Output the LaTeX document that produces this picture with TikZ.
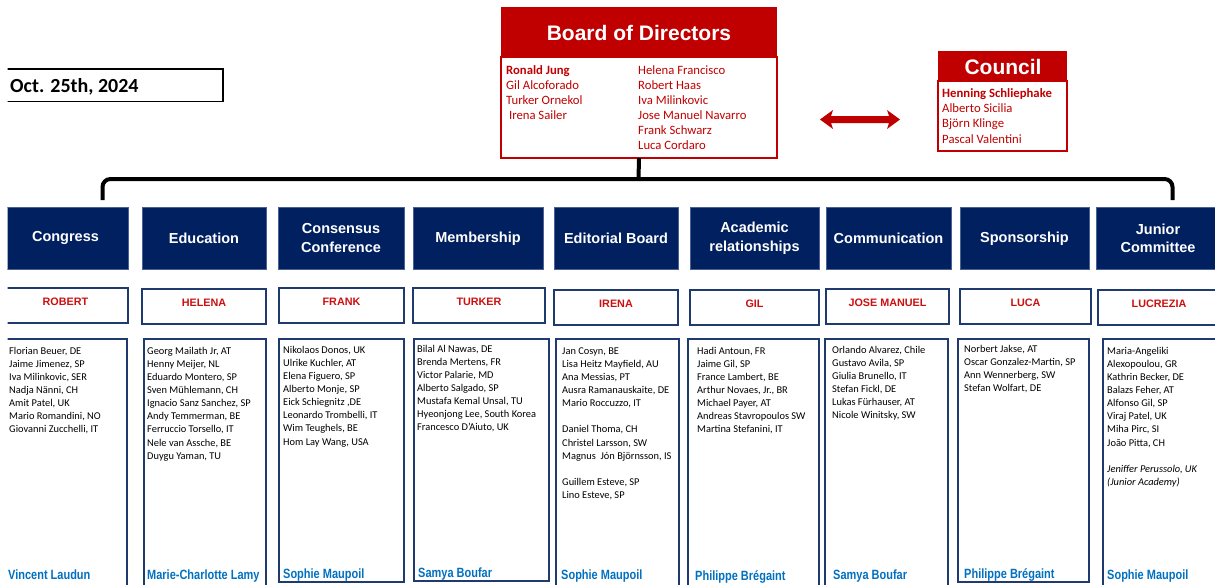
\documentclass[tikz,border=0pt]{standalone}
\usepackage{fontspec}
\setmainfont{Carlito}
\newfontfamily\arial{Liberation Sans}
\newfontfamily\arialn[FakeStretch=0.82]{Liberation Sans}
\definecolor{navyfill}{HTML}{002060}
\definecolor{navyedge}{HTML}{4A6196}
\definecolor{navyline}{HTML}{1F3A6E}
\definecolor{redc}{HTML}{C00000}
\definecolor{leadred}{HTML}{CC1010}
\definecolor{bluec}{HTML}{0070C0}
\tikzset{
  hbox/.style={fill=navyfill, draw=navyedge, line width=0.6pt, text=white,
    font=\arial\bfseries\fontsize{14.5}{18.5}\selectfont, align=center,
    inner sep=0pt, outer sep=0pt, anchor=north west, minimum height=62.5pt},
  lbox/.style={draw=navyline, line width=1.6pt, fill=white, inner sep=0pt,
    outer sep=0pt, anchor=north west, minimum height=35pt},
  ltext/.style={text=leadred, font=\arial\bfseries\fontsize{10.8}{13}\selectfont,
    anchor=base, inner sep=0pt},
  mbox/.style={draw=navyline, line width=1.6pt, inner sep=0pt, outer sep=0pt,
    anchor=north west},
  mtext/.style={font=\fontsize{10.4}{12.5}\selectfont, anchor=base west, inner sep=0pt},
  bname/.style={text=bluec, font=\arialn\bfseries\fontsize{13.4}{15}\selectfont,
    anchor=base west, inner sep=0pt},
  redhead/.style={fill=redc, text=white, font=\arial\bfseries\fontsize{21}{25}\selectfont,
    inner sep=0pt, outer sep=0pt, anchor=north west},
  redbody/.style={draw=redc, line width=1.5pt, fill=white, inner sep=0pt, outer sep=0pt,
    anchor=north west},
  btext/.style={text=redc, font=\fontsize{12.7}{15}\selectfont, anchor=base west, inner sep=0pt},
  bracestyle/.style={line width=4pt, rounded corners=8pt},
}
\newcommand{\mlist}[4]{\foreach \t [count=\i] in {#4} {\node[mtext] (#1-\i) at ({#2},{#3+(\i-1)*13.1}) {\t};}}
\newcommand{\blist}[5]{\foreach \t [count=\i] in {#5} {\node[btext] (#1-\i) at ({#2},{#3+(\i-1)*#4}) {\t};}}
\begin{document}
\begin{tikzpicture}[x=1pt,y=-1pt]
\useasboundingbox (0,0) rectangle (1215,584);
\begin{scope}
\clip (7.5,0) rectangle (1215,584);

% date
\draw[line width=1.5pt] (7,69) -- (223,69) -- (223,101.5) -- (7,101.5);
\node[font=\bfseries\fontsize{20}{24}\selectfont, anchor=base west, inner sep=0pt] (date) at (10,92) {Oct. 25th, 2024};

% board of directors
\node[redhead, minimum width=276pt, minimum height=50pt] (boardhead) at (501,7) {};
\node[text=white, font=\arial\bfseries\fontsize{21}{25}\selectfont, inner sep=0pt] (boardtitle) at (639,33) {Board of Directors};
\node[redbody, minimum width=276pt, minimum height=101pt] (boardbody) at (501,57) {};
\node[btext, font=\bfseries\fontsize{12.7}{15}\selectfont] (bd0) at (506,74) {Ronald Jung};
\blist{bda}{506}{89.1}{15.1}{Gil Alcoforado,Turker Ornekol,\ Irena Sailer}
\blist{bdb}{638}{74}{15.1}{Helena Francisco,Robert Haas,Iva Milinkovic,Jose Manuel Navarro,Frank Schwarz,Luca Cordaro}

% council
\node[redhead, minimum width=129pt, minimum height=30pt] (councilhead) at (938,51) {};
\node[text=white, font=\arial\bfseries\fontsize{21}{25}\selectfont, inner sep=0pt] (counciltitle) at (1003,66.5) {Council};
\node[redbody, minimum width=129pt, minimum height=70pt] (councilbody) at (938,81) {};
\node[btext, font=\bfseries\fontsize{12.7}{15}\selectfont] (co0) at (942,97) {Henning Schliephake};
\blist{coa}{942}{112.5}{15.3}{Alberto Sicilia,Björn Klinge,Pascal Valentini}

% double arrow
\fill[redc] (820,119.5) -- (833,110) -- (831,116) -- (889,116) -- (887,110) -- (900,119.5)
  -- (887,129) -- (889,123) -- (831,123) -- (833,129) -- cycle;

% brace connector
\coordinate (braceL) at (102.5,200);
\coordinate (braceR) at (1172.5,200);
\coordinate (braceM) at (638.5,179);
\draw[bracestyle] (braceL) -- (102.5,179) -- (1172.5,179) -- (braceR);
\draw[line width=4pt] (boardbody.south) -- (braceM);

% headers
\node[hbox, minimum width=125pt] (h1) at (3,207) {Congress};
\node[hbox, minimum width=124pt] (h2) at (142,207) {Education};
\node[hbox, minimum width=126pt] (h3) at (278,207) {Consensus\\Conference};
\node[hbox, minimum width=130pt] (h4) at (413,207) {Membership};
\node[hbox, minimum width=124pt] (h5) at (554,207) {Editorial Board};
\node[hbox, minimum width=129pt] (h6) at (690,207) {Academic\\relationships};
\node[hbox, minimum width=125pt] (h7) at (826,207) {Communication};
\node[hbox, minimum width=129pt] (h8) at (960,207) {Sponsorship};
\node[hbox, minimum width=124pt] (h9) at (1096,207) {Junior\\Committee};

% leaders
\node[lbox, minimum width=125pt] (l1) at (3,288) {};
\node[lbox, minimum width=124pt] (l2) at (142,289) {};
\node[lbox, minimum width=125pt] (l3) at (279,288) {};
\node[lbox, minimum width=132pt] (l4) at (413,288) {};
\node[lbox, minimum width=124pt] (l5) at (554,290) {};
\node[lbox, minimum width=129pt] (l6) at (690,290) {};
\node[lbox, minimum width=123pt] (l7) at (826,289) {};
\node[lbox, minimum width=131pt] (l8) at (960,289) {};
\node[lbox, minimum width=122pt] (l9) at (1098,290) {};
\node[ltext] (lt1) at ([yshift=-17pt]l1.north) {ROBERT};
\node[ltext] (lt2) at ([yshift=-17pt]l2.north) {HELENA};
\node[ltext] (lt3) at ([yshift=-17pt]l3.north) {FRANK};
\node[ltext] (lt4) at ([yshift=-17pt]l4.north) {TURKER};
\node[ltext] (lt5) at ([yshift=-17pt]l5.north) {IRENA};
\node[ltext] (lt6) at ([yshift=-17pt]l6.north) {GIL};
\node[ltext] (lt7) at ([yshift=-17pt]l7.north) {JOSE MANUEL};
\node[ltext] (lt8) at ([yshift=-17pt]l8.north) {LUCA};
\node[ltext] (lt9) at ([yshift=-17pt]l9.north) {LUCREZIA};

% member boxes
\node[mbox, minimum width=124pt, minimum height=255pt] (m1) at (3,339) {};
\node[mbox, minimum width=122pt, minimum height=255pt] (m2) at (144,339) {};
\node[mbox, minimum width=125pt, minimum height=243pt] (m3) at (279,339) {};
\node[mbox, minimum width=135pt, minimum height=242pt] (m4) at (414,339) {};
\node[mbox, minimum width=123pt, minimum height=255pt] (m5) at (556,339) {};
\node[mbox, minimum width=131pt, minimum height=255pt] (m6) at (688,339) {};
\node[mbox, minimum width=123pt, minimum height=255pt] (m7) at (825,339) {};
\node[mbox, minimum width=131pt, minimum height=243pt] (m8) at (958,339) {};
\node[mbox, minimum width=125pt, minimum height=255pt] (m9) at (1103,339) {};

% member lists
\mlist{a}{9}{354.3}{{Florian Beuer, DE},{Jaime Jimenez, SP},{Iva Milinkovic, SER},{Nadja Nänni, CH},{Amit Patel, UK},{Mario Romandini, NO},{Giovanni Zucchelli, IT}}
\mlist{b}{147}{354.3}{{Georg Mailath Jr, AT},{Henny Meijer, NL},{Eduardo Montero, SP},{Sven Mühlemann, CH},{Ignacio Sanz Sanchez, SP},{Andy Temmerman, BE},{Ferruccio Torsello, IT},{Nele van Assche, BE},{Duygu Yaman, TU}}
\mlist{c}{283}{353.3}{{Nikolaos Donos, UK},{Ulrike Kuchler, AT},{Elena Figuero, SP},{Alberto Monje, SP},{Eick Schiegnitz ,DE},{Leonardo Trombelli, IT},{Wim Teughels, BE},{Hom Lay Wang, USA}}
\mlist{d}{417}{352.3}{{Bilal Al Nawas, DE},{Brenda Mertens, FR},{Victor Palarie, MD},{Alberto Salgado, SP},{Mustafa Kemal Unsal, TU},{Hyeonjong Lee, South Korea},{Francesco D’Aiuto, UK}}
\mlist{e}{562}{354.3}{{Jan Cosyn, BE},{Lisa Heitz Mayfield, AU},{Ana Messias, PT},{Ausra Ramanauskaite, DE},{Mario Roccuzzo, IT},{},{Daniel Thoma, CH},{Christel Larsson, SW},{Magnus\ \ Jón Björnsson, IS},{},{Guillem Esteve, SP},{Lino Esteve, SP}}
\mlist{f}{697}{354.3}{{Hadi Antoun, FR},{Jaime Gil, SP},{France Lambert, BE},{Arthur Novaes, Jr., BR},{Michael Payer, AT},{Andreas Stavropoulos SW},{Martina Stefanini, IT}}
\mlist{g}{832}{353.3}{{Orlando Alvarez, Chile},{Gustavo Avila, SP},{Giulia Brunello, IT},{Stefan Fickl, DE},{Lukas Fürhauser, AT},{Nicole Winitsky, SW}}
\mlist{h}{964}{352.3}{{Norbert Jakse, AT},{Oscar Gonzalez-Martin, SP},{Ann Wennerberg, SW},{Stefan Wolfart, DE}}
\mlist{j}{1107}{354.3}{{Maria-Angeliki},{Alexopoulou, GR},{Kathrin Becker, DE},{Balazs Feher, AT},{Alfonso Gil, SP},{Viraj Patel, UK},{Miha Pirc, SI},{João Pitta, CH},{},{\textit{Jeniffer Perussolo, UK}},{\textit{(Junior Academy)}}}

% bottom names
\node[bname] (b1) at (8,579) {Vincent Laudun};
\node[bname] (b2) at (147,579) {Marie-Charlotte Lamy};
\node[bname] (b3) at (283,578) {Sophie Maupoil};
\node[bname] (b4) at (418,577) {Samya Boufar};
\node[bname] (b5) at (561,579) {Sophie Maupoil};
\node[bname] (b6) at (695,580) {Philippe Brégaint};
\node[bname] (b7) at (833,579) {Samya Boufar};
\node[bname] (b8) at (964,578) {Philippe Brégaint};
\node[bname] (b9) at (1107,579) {Sophie Maupoil};
\end{scope}
\end{tikzpicture}
\end{document}
